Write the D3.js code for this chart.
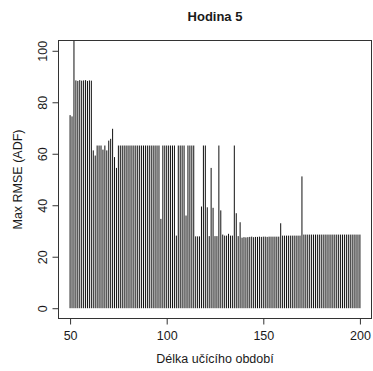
<!DOCTYPE html>
<html>
<head>
<meta charset="utf-8">
<script src="https://cdn.jsdelivr.net/npm/d3@7"></script>
<style>
  html, body { margin: 0; padding: 0; background: #fff; }
  svg { display: block; }
  text { font-family: "Liberation Sans", Arial, sans-serif; fill: #1a1a1a; }
</style>
</head>
<body>
<svg id="chart" width="373" height="371"></svg>
<script>
// Max RMSE (ADF) for each training-period length, hour 5
const firstLength = 50;
const rmseValues = [
  75.0, 74.5, 130.0, 88.5, 88.3, 88.6, 88.4, 88.5, 88.6, 88.3, 88.5, 88.4,   // 50-61
  61.3, 59.3, 63.2, 63.2, 63.2, 61.6, 63.2, 61.3, 65.1, 65.8, 69.7, 58.7, 54.5, // 62-74
  63.2, 63.2, 63.2, 63.2, 63.2, 63.2, 63.2, 63.2, 63.2, 63.2, 63.2,         // 75-85
  63.2, 63.2, 63.2, 63.2, 63.2, 63.2, 63.2, 63.2, 63.2, 63.2, 63.2,         // 86-96
  34.7, 63.2, 63.2, 63.2, 63.2, 63.2, 63.2, 63.2,                           // 97-104
  28.2, 63.2, 63.2, 63.2, 63.2, 36.0, 63.2, 63.2, 63.2, 63.2,               // 105-114
  27.9, 27.9, 27.9, 39.5, 63.2, 63.2, 39.2, 28.0, 54.5, 39.0,               // 115-124
  28.0, 28.0, 63.2, 38.0, 28.6, 28.2, 28.2, 28.9, 28.2, 28.2,               // 125-134
  63.2, 36.9, 28.0, 33.4,                                                   // 135-138
  27.4, 27.6, 27.5, 27.6, 27.7, 27.8, 27.6, 27.7, 27.7, 27.8,               // 139-148
  27.7, 27.8, 27.8, 27.7, 27.8, 27.8, 27.8, 27.8, 27.8, 27.8,               // 149-158
  33.0, 28.2, 28.2, 28.2, 28.2, 28.2, 28.2, 28.2, 28.2, 28.2, 28.2,         // 159-169
  51.2,                                                                     // 170
  28.6, 28.6, 28.6, 28.6, 28.6, 28.6, 28.6, 28.6, 28.6, 28.6,               // 171-180
  28.6, 28.6, 28.6, 28.6, 28.6, 28.6, 28.6, 28.6, 28.6, 28.6,               // 181-190
  28.6, 28.6, 28.6, 28.6, 28.6, 28.6, 28.6, 28.6, 28.6, 28.6                // 191-200
];
const xTicks = [50, 100, 150, 200];
const yTicks = [0, 20, 40, 60, 80, 100];
const titleText = "Hodina 5";
const xTitle = "Délka učícího období";
const yTitle = "Max RMSE (ADF)";

const data = rmseValues.map((v, i) => ({ len: firstLength + i, v }));

const box = { left: 58.5, right: 371.5, top: 40.5, bottom: 318.5 };

// R-style 4% padding around the data range
const x = d3.scaleLinear().domain([44, 206]).range([box.left, box.right]);
const y = d3.scaleLinear().domain([-4, 104]).range([box.bottom, box.top]);

const svg = d3.select("#chart");

svg.append("defs").append("clipPath").attr("id", "plotArea")
  .append("rect")
  .attr("x", box.left).attr("y", box.top)
  .attr("width", box.right - box.left).attr("height", box.bottom - box.top);

// vertical "histogram-like" lines from zero to each value
svg.append("g")
  .attr("clip-path", "url(#plotArea)")
  .selectAll("line")
  .data(data)
  .join("line")
  .attr("x1", d => x(d.len)).attr("x2", d => x(d.len))
  .attr("y1", y(0)).attr("y2", d => y(d.v))
  .attr("stroke", "#111")
  .attr("stroke-width", 1);

// frame
svg.append("rect")
  .attr("x", box.left).attr("y", box.top)
  .attr("width", box.right - box.left).attr("height", box.bottom - box.top)
  .attr("fill", "none").attr("stroke", "#333").attr("stroke-width", 1);

// axes
const xAxis = d3.axisBottom(x).tickValues(xTicks).tickSize(6).tickPadding(7).tickFormat(d3.format("d"));
const gx = svg.append("g").attr("transform", `translate(0,${box.bottom})`).call(xAxis);
gx.select(".domain").remove();
gx.selectAll("text").attr("font-size", 12.5).attr("font-family", "Liberation Sans, Arial, sans-serif").attr("fill", "#1a1a1a");
gx.selectAll("line").attr("stroke", "#333");

const yAxis = d3.axisLeft(y).tickValues(yTicks).tickSize(6).tickFormat(d3.format("d"));
const gy = svg.append("g").attr("transform", `translate(${box.left},0)`).call(yAxis);
gy.select(".domain").remove();
gy.selectAll("line").attr("stroke", "#333");
gy.selectAll("text")
  .attr("font-size", 12.5).attr("font-family", "Liberation Sans, Arial, sans-serif").attr("fill", "#1a1a1a")
  .attr("x", null).attr("dy", null)
  .attr("text-anchor", "middle")
  .attr("transform", "translate(-12,0) rotate(-90)");

// titles
svg.append("text")
  .attr("x", (box.left + box.right) / 2).attr("y", 21)
  .attr("text-anchor", "middle").attr("font-size", 13).attr("font-weight", "bold")
  .text(titleText);

svg.append("text")
  .attr("x", (box.left + box.right) / 2).attr("y", 363)
  .attr("text-anchor", "middle").attr("font-size", 12.5)
  .text(xTitle);

svg.append("text")
  .attr("transform", `translate(22,${(box.top + box.bottom) / 2}) rotate(-90)`)
  .attr("text-anchor", "middle").attr("font-size", 12.5)
  .text(yTitle);
</script>
</body>
</html>
